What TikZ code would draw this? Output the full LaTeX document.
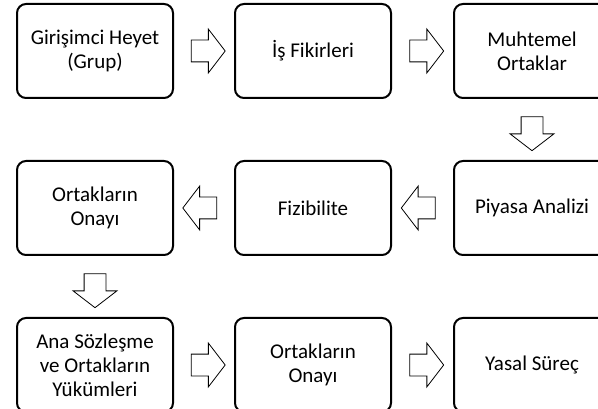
\documentclass[tikz,border=0pt]{standalone}
\usepackage{fontspec}
\setmainfont{Carlito}
\usetikzlibrary{positioning,calc,shapes.arrows}

\tikzset{
  stepbox/.style={draw, line width=2pt, rounded corners=9pt,
    minimum width=156pt, minimum height=94pt, align=center,
    font=\fontsize{21}{24}\selectfont},
  blockarrow/.style={single arrow, draw, line width=0.8pt,
    minimum height=34pt, inner xsep=0pt, inner ysep=10.5pt,
    single arrow head extend=11pt, single arrow tip angle=105},
  downarrow/.style={blockarrow, inner xsep=10.5pt, inner ysep=0pt,
    shape border rotate=270}
}

\begin{document}
\begin{tikzpicture}[x=1pt, y=1pt, node distance=61pt and 60pt]
    \useasboundingbox (0,0) rectangle (598,-409);
    \clip (0,0) rectangle (598,-409);

    % first row
    \node[stepbox] (grup) at (95,-51) {Girişimci Heyet\\(Grup)};
    \node[stepbox, right=of grup] (fikir) {İş Fikirleri};
    \node[stepbox, right=61pt of fikir] (muhtemel) {Muhtemel\\Ortaklar};

    % second row
    \node[stepbox, below=of muhtemel] (piyasa) {Piyasa Analizi};
    \node[stepbox, below=of fikir] (fizibilite) {Fizibilite};
    \node[stepbox, below=of grup] (onay) {Ortakların\\Onayı};

    % third row
    \node[stepbox, below=of onay] (sozlesme) {Ana Sözleşme\\ve Ortakların\\Yükümleri};
    \node[stepbox, below=of fizibilite] (onayiki) {Ortakların\\Onayı};
    \node[stepbox, below=of piyasa] (yasal) {Yasal Süreç};

    % arrows
    \node[blockarrow] (a1) at ($(grup)!0.5!(fikir)$) {};
    \node[blockarrow] (a2) at ($(fikir)!0.5!(muhtemel)$) {};
    \node[downarrow] (a3) at ($(muhtemel)!0.5!(piyasa)$) {};
    \node[blockarrow, shape border rotate=180] (a4) at ($(piyasa)!0.5!(fizibilite)$) {};
    \node[blockarrow, shape border rotate=180] (a5) at ($(fizibilite)!0.5!(onay)$) {};
    \node[downarrow] (a6) at ($(onay)!0.5!(sozlesme)$) {};
    \node[blockarrow] (a7) at ($(sozlesme)!0.5!(onayiki)$) {};
    \node[blockarrow] (a8) at ($(onayiki)!0.5!(yasal)$) {};
\end{tikzpicture}
\end{document}
